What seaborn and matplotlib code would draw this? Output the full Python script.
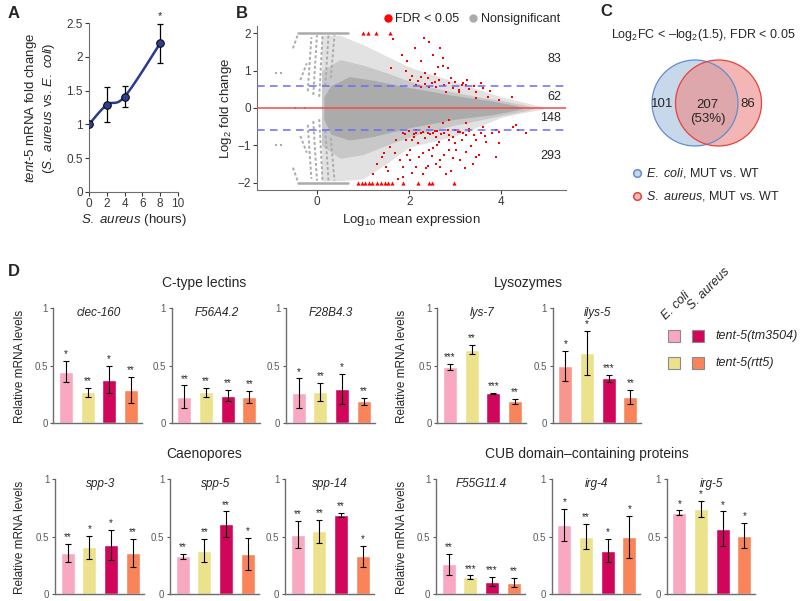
import numpy as np
import pandas as pd
import matplotlib
matplotlib.use("Agg")
import matplotlib.pyplot as plt
from matplotlib.patches import Circle, Rectangle
from matplotlib.lines import Line2D
import seaborn as sns

sns.set_style("ticks")
plt.rcParams["font.family"] = ["Liberation Sans", "DejaVu Sans"]
plt.rcParams["mathtext.fontset"] = "custom"
plt.rcParams["mathtext.rm"] = "Liberation Sans"
plt.rcParams["mathtext.it"] = "Liberation Sans:italic"
plt.rcParams["axes.unicode_minus"] = True

# ---------------- data ----------------
# A: tent-5 fold change time course
a_hours = [0, 2, 4, 8]
a_fold = [1.0, 1.29, 1.41, 2.2]
a_err = [0.0, 0.26, 0.16, 0.29]
a_stars = ["", "", "", "*"]

# B: MA plot (grey cloud envelopes, red = FDR < 0.05)
env_x = [0.1, 0.5, 1.0, 1.5, 2.0, 2.5, 3.0, 3.5, 4.0, 4.5, 4.9]
env_hi = [1.95, 1.95, 1.7, 1.4, 1.1, 0.9, 0.7, 0.5, 0.3, 0.15, 0.03]
env_lo = [-1.95, -1.95, -1.9, -1.5, -1.05, -0.9, -0.75, -0.5, -0.25, -0.12, -0.03]
mid_x = [0.1, 0.5, 1.0, 1.5, 2.0, 2.5, 3.0, 3.5, 4.0, 4.5, 4.7]
mid_hi = [1.0, 1.3, 1.15, 0.95, 0.72, 0.55, 0.42, 0.3, 0.2, 0.08, 0.02]
mid_lo = [-1.0, -1.35, -1.25, -1.0, -0.78, -0.6, -0.46, -0.33, -0.2, -0.08, -0.02]
core_x = [0.15, 0.3, 0.7, 1.2, 2.0, 3.0, 3.8, 4.3, 4.5]
core_hi = [0.3, 0.6, 0.84, 0.75, 0.55, 0.33, 0.19, 0.07, 0.0]
core_lo = [-0.3, -0.7, -0.86, -0.77, -0.53, -0.30, -0.18, -0.06, 0.0]
streak_x0 = [-0.52, -0.36, -0.2, -0.08, 0.05, 0.18, 0.3]
streak_y0 = [1.6, 0.75, 0.45, 0.35, 0.3, 0.6, 0.8]
streak_x1 = [-0.42, -0.22, -0.12, 0.0, 0.12, 0.25, 0.38]
streak_y1 = [1.95, 1.2, 1.9, 1.95, 1.95, 1.95, 1.95]
stray_x = [-0.88, -0.78, -0.88, -0.78, -0.47, -0.25]
stray_y = [0.95, 0.95, -1.0, -1.0, 0.0, 0.0]
red_x = [2.32, 2.44, 1.65, 1.84, 1.96, 2.26, 1.61, 1.94, 2.01, 2.62, 2.84, 2.51, 2.66,
         2.44, 2.80, 3.09, 3.45, 3.16, 2.26, 2.15, 2.12, 2.73, 2.73, 2.26, 2.87, 3.23,
         3.45, 2.58, 3.95, 4.23, 3.70, 3.09, 2.35, 2.55, 2.95, 3.3,
         2.2, 2.4, 2.5, 2.65, 2.75, 2.9, 3.0, 3.15, 3.25, 3.4, 3.55, 2.05, 2.35, 2.55, 3.6, 3.75,
         2.87, 3.23, 3.59, 3.95, 4.31, 4.35, 2.51, 2.87, 3.23, 3.45, 3.66, 3.95, 2.15,
         1.94, 2.51, 2.87, 3.23, 3.52, 3.88, 2.22, 2.66, 2.94, 2.66, 2.37, 2.01, 1.86,
         3.38, 1.40, 1.58, 1.72, 1.86, 1.50, 1.22, 1.79, 2.01, 2.15, 2.30, 2.07, 2.15,
         2.44, 2.73, 2.58, 2.87, 3.16, 3.02, 3.45, 2.58, 2.80, 3.88, 4.24, 4.53, 2.44,
         1.86, 2.3, 2.6, 3.0, 3.3, 2.1, 2.4, 2.7, 3.1,
         1.9, 2.0, 2.1, 2.25, 2.35, 2.45, 2.55, 2.65, 2.75, 2.85, 2.95, 3.05, 3.15, 3.3,
         3.4, 3.55, 3.65, 3.8, 2.2, 2.6, 3.0, 3.35, 1.7, 1.95, 2.3, 2.5, 2.75, 3.1, 1.55,
         1.75, 2.05, 2.4, 2.9, 3.2, 1.3, 1.45]
red_y = [1.87, 1.77, 1.85, 1.42, 1.25, 1.25, 1.07, 0.98, 0.75, 1.11, 1.07, 1.42, 1.60,
         0.57, 0.44, 0.48, 0.26, 0.66, 0.57, 0.62, 1.60, 1.34, 1.13, 0.84, 0.66, 0.62,
         0.44, 0.57, 0.22, 0.30, 0.30, 0.44, 0.65, 0.7, 0.55, 0.5,
         0.72, 0.8, 0.68, 0.75, 0.62, 0.8, 0.7, 0.62, 0.75, 0.6, 0.68, 0.85, 0.95, 0.9, 0.55, 0.45,
         -0.32, -0.41, -0.50, -0.64, -0.46, -0.59, -0.68, -0.73, -0.73, -0.86, -0.91, -0.95, -0.68,
         -0.86, -1.08, -1.13, -1.17, -1.26, -1.31, -1.31, -1.40, -1.35, -1.58, -1.62, -1.40, -1.58,
         -1.49, -1.31, -1.04, -0.86, -0.68, -1.58, -1.76, -1.40, -1.13, -1.58, -1.76, -0.86, -0.59,
         -0.50, -0.41, -0.77, -0.86, -0.68, -1.13, -1.31, -1.49, -1.76, -0.59, -0.50, -0.68, -1.13,
         -1.85, -0.65, -0.62, -0.6, -0.55, -0.7, -0.66, -0.7, -0.64,
         -0.7, -0.62, -0.78, -0.66, -0.8, -0.7, -0.62, -0.9, -0.66, -0.6, -0.78, -0.64, -0.85, -0.62,
         -0.72, -0.66, -0.75, -0.68, -0.95, -1.0, -0.95, -1.02, -1.2, -1.25, -1.2, -1.3, -1.25, -1.4, -1.7,
         -1.9, -1.75, -1.55, -1.7, -1.6, -1.5, -1.2]
clip_top_x = [1.0, 1.1, 1.27, 1.58]
clip_bot_x = [0.89, 0.97, 1.05, 1.13, 1.2, 1.3, 1.38, 1.47, 1.55, 1.62, 1.86, 2.2, 2.44, 2.5, 2.98]
b_counts = ["83", "62", "148", "293"]
b_count_y = [1.32, 0.30, -0.27, -1.29]

# C: Venn counts
venn_counts = ["101", "207\n(53%)", "86"]

# D: qPCR relative mRNA levels
conditions = ["E. coli tm3504", "E. coli rtt5", "S. aureus tm3504", "S. aureus rtt5"]
cond_colors = ["#F9A8C2", "#EDE28C", "#D1065B", "#FA845A"]
genes = ["clec-160", "F56A4.2", "F28B4.3", "lys-7", "ilys-5",
         "spp-3", "spp-5", "spp-14", "F55G11.4", "irg-4", "irg-5"]
gene_vals = [[0.45, 0.27, 0.38, 0.29], [0.23, 0.27, 0.24, 0.23], [0.26, 0.27, 0.30, 0.19],
             [0.49, 0.64, 0.26, 0.19], [0.50, 0.61, 0.39, 0.23],
             [0.36, 0.41, 0.43, 0.36], [0.33, 0.38, 0.61, 0.35], [0.52, 0.55, 0.69, 0.33],
             [0.26, 0.15, 0.11, 0.10], [0.60, 0.50, 0.38, 0.50], [0.71, 0.74, 0.57, 0.51]]
gene_errs = [[0.09, 0.04, 0.12, 0.11], [0.10, 0.04, 0.05, 0.05], [0.13, 0.08, 0.13, 0.03],
             [0.03, 0.04, 0.005, 0.02], [0.13, 0.19, 0.03, 0.06],
             [0.08, 0.10, 0.13, 0.12], [0.02, 0.10, 0.11, 0.14], [0.12, 0.10, 0.02, 0.09],
             [0.09, 0.015, 0.04, 0.04], [0.14, 0.11, 0.10, 0.18], [0.02, 0.07, 0.15, 0.11]]
gene_stars = [["*", "**", "*", "**"], ["**", "**", "**", "**"], ["*", "**", "*", "**"],
              ["***", "**", "***", "**"], ["*", "*", "***", "**"],
              ["**", "*", "*", "**"], ["**", "**", "**", "*"], ["**", "**", "**", "*"],
              ["**", "***", "***", "**"], ["*", "**", "*", "*"], ["*", "*", "*", "*"]]
group_titles = ["C-type lectins", "Lysozymes", "Caenopores", "CUB domain\u2013containing proteins"]

# ---------------- layout helpers ----------------
W, H = 800, 601
fig = plt.figure(figsize=(8, 6.01), dpi=100)


def px_axes(left, top, right, bottom):
    return fig.add_axes([left / W, 1 - bottom / H, (right - left) / W, (bottom - top) / H])


def ftext(x, y, s, **kw):
    return fig.text(x / W, 1 - y / H, s, **kw)


spine_col = "#6E6E6E"
grey = "#ABABAB"

# ---------------- A ----------------
axA = px_axes(89, 23, 178, 192)
pts = np.array([a_hours, a_fold], dtype=float).T
# smooth (Catmull-Rom) line through the points, like the spreadsheet smoothing
curve = []
for i in range(len(pts) - 1):
    p0 = pts[max(i - 1, 0)]
    p1, p2 = pts[i], pts[i + 1]
    p3 = pts[min(i + 2, len(pts) - 1)]
    for t in np.linspace(0, 1, 30):
        t2, t3 = t * t, t * t * t
        curve.append(0.5 * ((2 * p1) + (-p0 + p2) * t + (2 * p0 - 5 * p1 + 4 * p2 - p3) * t2
                            + (-p0 + 3 * p1 - 3 * p2 + p3) * t3))
curve = np.array(curve)
axA.plot(curve[:, 0], curve[:, 1], color="#2B3990", lw=1.8, zorder=2)
axA.errorbar(a_hours, a_fold, yerr=a_err, fmt="none", ecolor="black", elinewidth=0.9,
             capsize=2.5, capthick=0.9, zorder=3)
sns.scatterplot(x=a_hours, y=a_fold, ax=axA, color="#2E3F8F", edgecolor="black",
                linewidth=0.7, s=30, zorder=4)
for h, v, e, s in zip(a_hours, a_fold, a_err, a_stars):
    if s:
        axA.text(h, v + e + 0.04, s, ha="center", va="bottom", fontsize=8)
axA.set_xlim(0, 10)
axA.set_ylim(0, 2.5)
axA.set_xticks([0, 2, 4, 6, 8, 10])
axA.set_yticks([0, 0.5, 1, 1.5, 2, 2.5])
axA.set_yticklabels(["0", "0.5", "1", "1.5", "2", "2.5"])
sns.despine(ax=axA)
for sp in ["left", "bottom"]:
    axA.spines[sp].set_color(spine_col)
axA.tick_params(labelsize=8.5, colors="#3A3A3A", length=3, width=0.8, pad=1.5)
axA.set_xlabel(r"$\it{S.\ aureus}$ (hours)", fontsize=9.5, labelpad=1)
ftext(40, 108, "$\\it{tent}$-$\\it{5}$ mRNA fold change\n($\\it{S.\\ aureus}$ vs. $\\it{E.\\ coli}$)",
      rotation=90, ha="center", va="center", fontsize=9.5, linespacing=1.2)

# ---------------- B ----------------
axB = px_axes(257, 26, 566, 190)
axB.fill_between(env_x, env_lo, env_hi, color="#E2E2E2", lw=0, zorder=1)
axB.fill_between(mid_x, mid_lo, mid_hi, color="#C8C8C8", lw=0, zorder=1)
axB.fill_between(core_x, core_lo, core_hi, color=grey, lw=0, zorder=1)
for x0, y0, x1, y1 in zip(streak_x0, streak_y0, streak_x1, streak_y1):
    axB.plot([x0, x1], [y0, y1], color=grey, lw=1.4, ls=(0, (1.5, 1.2)), zorder=1)
    axB.plot([x0, x1], [-y0, -y1], color=grey, lw=1.4, ls=(0, (1.5, 1.2)), zorder=1)
axB.scatter(stray_x, stray_y, color=grey, marker="s", s=2, lw=0, zorder=1)
axB.plot([-0.42, 0.68], [2, 2], color=grey, lw=1.8, zorder=1)
axB.plot([-0.42, 0.68], [-2, -2], color=grey, lw=1.8, zorder=1)
sns.scatterplot(x=red_x, y=red_y, ax=axB, color="#FF0000", marker="s", s=4, linewidth=0, zorder=3)
sns.scatterplot(x=clip_top_x, y=[2] * len(clip_top_x), ax=axB, color="#FF0000", marker="^",
                s=9, linewidth=0, zorder=3)
sns.scatterplot(x=clip_bot_x, y=[-2] * len(clip_bot_x), ax=axB, color="#FF0000", marker="^",
                s=9, linewidth=0, zorder=3)
axB.axhline(0, color="#F24A4A", lw=1.1, zorder=4)
for yv in [np.log2(1.5), -np.log2(1.5)]:
    axB.axhline(yv, color="#6B6BF5", lw=1.1, dashes=(5, 3.5), zorder=4)
for s, y in zip(b_counts, b_count_y):
    axB.text(0.985, y, s, transform=axB.get_yaxis_transform(), ha="right", va="center", fontsize=9)
axB.set_xlim(-1.3, 5.4)
axB.set_ylim(-2.2, 2.2)
axB.set_xticks([0, 2, 4])
axB.set_yticks([-2, -1, 0, 1, 2])
sns.despine(ax=axB)
for sp in ["left", "bottom"]:
    axB.spines[sp].set_color(spine_col)
axB.tick_params(labelsize=8.5, colors="#3A3A3A", length=3, width=0.8, pad=1.5)
axB.set_xlabel("Log$_{10}$ mean expression", fontsize=9.5, labelpad=3)
axB.set_ylabel("Log$_2$ fold change", fontsize=9.5, labelpad=2)
handles = [Line2D([], [], marker="o", ls="", color="#FF0000", markersize=5),
           Line2D([], [], marker="o", ls="", color=grey, markersize=5)]
axB.legend(handles, ["FDR < 0.05", "Nonsignificant"], loc="center right",
           bbox_to_anchor=(1.0, 1.04), ncol=2, frameon=False, fontsize=9,
           handletextpad=0.1, columnspacing=0.6, handlelength=1.0, borderpad=0)

# ---------------- C ----------------
axC = px_axes(600, 25, 800, 210)
axC.set_xlim(600, 800)
axC.set_ylim(210, 25)
axC.axis("off")
axC.add_patch(Circle((695, 103), 43, facecolor="#A9C3E0", alpha=0.65, edgecolor="none"))
axC.add_patch(Circle((718.5, 103), 43, facecolor="#EC8A86", alpha=0.62, edgecolor="none"))
axC.add_patch(Circle((695, 103), 43, facecolor="none", edgecolor="#5F8ED0", lw=0.9))
axC.add_patch(Circle((718.5, 103), 43, facecolor="none", edgecolor="#E8413C", lw=0.9))
axC.text(662, 104, venn_counts[0], ha="center", va="center", fontsize=9.5)
axC.text(707.5, 112, venn_counts[1], ha="center", va="center", fontsize=9.5, linespacing=1.3)
axC.text(748, 104, venn_counts[2], ha="center", va="center", fontsize=9.5)
axC.text(703, 35, "Log$_2$FC < \u2013log$_2$(1.5), FDR < 0.05", ha="center", va="center", fontsize=9)
axC.plot([637], [173], marker="o", ms=5.5, mfc="#C6D6EC", mec="#5F8ED0", mew=1.1)
axC.plot([637], [196], marker="o", ms=5.5, mfc="#F4B8B5", mec="#E8413C", mew=1.1)
axC.text(646, 173, "$\\it{E.\\ coli}$, MUT vs. WT", va="center", fontsize=9)
axC.text(646, 196, "$\\it{S.\\ aureus}$, MUT vs. WT", va="center", fontsize=9)

# ---------------- D ----------------
row_bottoms = [423.3, 423.3, 423.3, 423.3, 423.3, 594.3, 594.3, 594.3, 594.3, 594.3, 594.3]
col_lefts = [53.3, 171.7, 286, 437.3, 552.7, 55, 170, 285, 436, 551.7, 666.7]
unit_px = 115
for g, name in enumerate(genes):
    left, bottom = col_lefts[g], row_bottoms[g]
    ax = px_axes(left, bottom - unit_px, left + 88.5, bottom)
    df = pd.DataFrame({"cond": conditions, "val": gene_vals[g]})
    pal = list(cond_colors)
    if name == "ilys-5":
        pal[0] = "#F9968C"
    sns.barplot(data=df, x="cond", y="val", hue="cond", palette=pal, legend=False,
                ax=ax, width=0.65, errorbar=None, saturation=1)
    ax.errorbar(range(4), gene_vals[g], yerr=gene_errs[g], fmt="none", ecolor="black",
                elinewidth=0.8, capsize=2, capthick=0.8)
    for i, (v, e, s) in enumerate(zip(gene_vals[g], gene_errs[g], gene_stars[g])):
        ax.text(i, v + e + 0.015, s, ha="center", va="bottom", fontsize=7)
    ax.text(1.5, 0.955, name, ha="center", va="center", fontsize=8.5, fontstyle="italic")
    ax.set_xlim(-0.58, 3.5)
    ax.set_ylim(0, 1)
    ax.set_yticks([0, 0.5, 1])
    ax.set_yticklabels(["0", "0.5", "1"])
    ax.set_xticks([])
    ax.set_xlabel("")
    ax.set_ylabel("")
    sns.despine(ax=ax)
    for sp in ["left", "bottom"]:
        ax.spines[sp].set_color(spine_col)
        ax.spines[sp].set_linewidth(1.0)
    ax.tick_params(axis="y", labelsize=7, colors="#5A5A5A", length=2.5, width=0.8, pad=1.5)

for x, y in [(20, 366), (402, 366), (20, 537), (402, 537)]:
    ftext(x, y, "Relative mRNA levels", rotation=90, ha="center", va="center", fontsize=8.5)
for (x, y), t in zip([(204, 283), (528, 283), (204, 454), (587, 454)], group_titles):
    ftext(x, y, t, ha="center", va="center", fontsize=10)

# D legend
axL = px_axes(660, 270, 800, 380)
axL.set_xlim(660, 800)
axL.set_ylim(380, 270)
axL.axis("off")
sq = 12
for (cx, cy), col in zip([(674, 336), (674, 363), (698, 336), (698, 363)], cond_colors):
    axL.add_patch(Rectangle((cx - sq / 2, cy - sq / 2), sq, sq, facecolor=col,
                            edgecolor="#8A8A8A", lw=0.8))
axL.text(715, 336, "tent-5(tm3504)", va="center", fontsize=9, fontstyle="italic")
axL.text(715, 363, "tent-5(rtt5)", va="center", fontsize=9, fontstyle="italic")
axL.text(668, 322, "E. coli", rotation=45, ha="left", va="bottom", fontsize=9,
         fontstyle="italic", rotation_mode="anchor")
axL.text(694, 312, "S. aureus", rotation=45, ha="left", va="bottom", fontsize=9,
         fontstyle="italic", rotation_mode="anchor")

# panel letters
for (x, y), t in zip([(8, 14), (236, 14), (600, 12), (8, 272)], ["A", "B", "C", "D"]):
    ftext(x, y, t, ha="left", va="center", fontsize=12, fontweight="bold")

fig.savefig("out.png", dpi=100)
